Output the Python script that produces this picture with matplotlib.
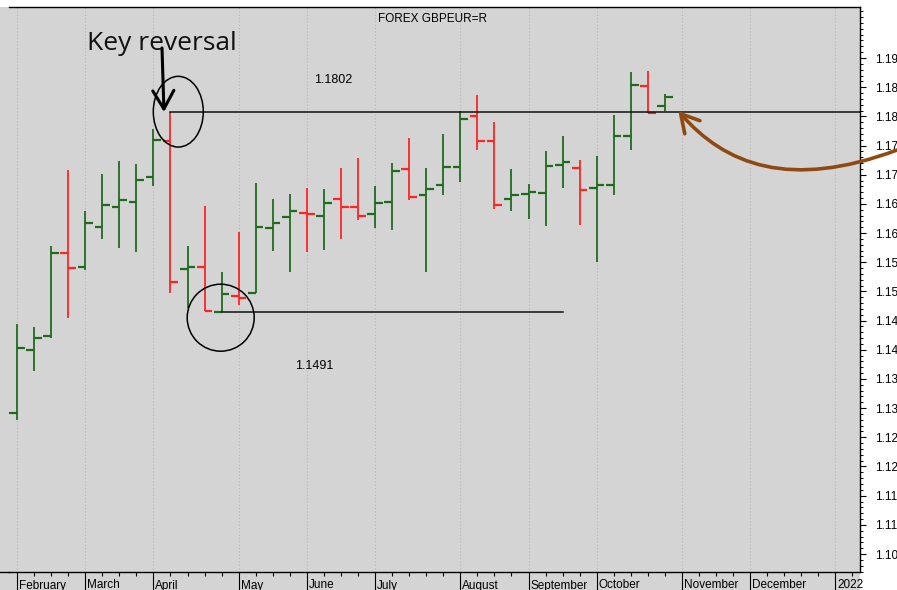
import numpy as np
import matplotlib
matplotlib.use('Agg')
import matplotlib.pyplot as plt
import matplotlib.transforms as mtransforms
from matplotlib.patches import Ellipse, FancyArrowPatch, Rectangle
from matplotlib.path import Path
from matplotlib.lines import Line2D
from matplotlib.ticker import FixedLocator, MultipleLocator, FuncFormatter

# ---------------- data (weekly OHLC, GBP/EUR 2021) ----------------
opens = [1.1291, 1.1399, 1.1423, 1.1566, 1.1542, 1.1611, 1.1644, 1.1654, 1.1696, 1.1757,
         1.1538, 1.1542, 1.1465, 1.1493, 1.1498, 1.1608, 1.1628, 1.1635, 1.1630, 1.1658,
         1.1644, 1.1633, 1.1653, 1.1710, 1.1665, 1.1682, 1.1713, 1.1801, 1.1757, 1.1658,
         1.1667, 1.1669, 1.1717, 1.1712, 1.1678, 1.1682, 1.1766, 1.1852, 1.1818]
highs = [1.1445, 1.1439, 1.1577, 1.1708, 1.1638, 1.1701, 1.1724, 1.1718, 1.1778, 1.1808,
         1.1578, 1.1647, 1.1533, 1.1601, 1.1686, 1.1658, 1.1667, 1.1678, 1.1676, 1.1711,
         1.1729, 1.1680, 1.1720, 1.1763, 1.1712, 1.1769, 1.1810, 1.1837, 1.1791, 1.1710,
         1.1684, 1.1741, 1.1766, 1.1725, 1.1732, 1.1803, 1.1876, 1.1878, 1.1838]
lows = [1.1280, 1.1364, 1.1420, 1.1454, 1.1537, 1.1589, 1.1574, 1.1568, 1.1681, 1.1498,
        1.1471, 1.1467, 1.1465, 1.1476, 1.1497, 1.1570, 1.1533, 1.1567, 1.1571, 1.1589,
        1.1622, 1.1608, 1.1605, 1.1657, 1.1533, 1.1665, 1.1688, 1.1742, 1.1641, 1.1638,
        1.1624, 1.1612, 1.1678, 1.1613, 1.1551, 1.1665, 1.1742, 1.1806, 1.1809]
closes = [1.1403, 1.1420, 1.1566, 1.1540, 1.1618, 1.1648, 1.1656, 1.1691, 1.1760, 1.1517,
          1.1541, 1.1467, 1.1495, 1.1488, 1.1611, 1.1617, 1.1638, 1.1633, 1.1652, 1.1644,
          1.1629, 1.1652, 1.1707, 1.1662, 1.1676, 1.1713, 1.1796, 1.1757, 1.1648, 1.1665,
          1.1670, 1.1715, 1.1721, 1.1673, 1.1682, 1.1766, 1.1854, 1.1806, 1.1833]

month_labels = ['February', 'March', 'April', 'May', 'June', 'July', 'August',
                'September', 'October', 'November', 'December', '2022']
month_weeks = [0, 4, 8, 13, 17, 21, 26, 30, 34, 39, 43, 48]
ytick_values = [1.105 + 0.005 * k for k in range(18)]

title_text = 'FOREX GBPEUR=R'
high_label = '1.1802'
low_label = '1.1491'
reversal_bar = 9
low_bar = 12
low_line_end = 32

# ---------------- figure ----------------
W, H = 897, 590
fig = plt.figure(figsize=(W / 100, H / 100), dpi=100, facecolor='white')
plt.rcParams['font.family'] = ['Liberation Sans', 'DejaVu Sans']


def fx(px):
    return px / W


def fy(py):
    return 1 - py / H


GRAY = '#d4d4d4'
GREEN = '#1e6b1e'
RED = '#ff2424'

fig.add_artist(Rectangle((0, 0), fx(860), fy(7), transform=fig.transFigure,
                         facecolor=GRAY, edgecolor='none', zorder=-5))

ax = fig.add_axes([fx(9), fy(572), fx(860) - fx(9), (572 - 7) / H])
ax.set_facecolor(GRAY)
ax.set_xlim(-0.469, 49.44)
ax.set_ylim(1.10192, 1.19874)

ax.spines['left'].set_visible(False)
for s in ['top', 'right', 'bottom']:
    ax.spines[s].set_color('black')
    ax.spines[s].set_linewidth(1.0)
fig.add_artist(Line2D([0, fx(9)], [fy(572), fy(572)], color='black', lw=1.0,
                      transform=fig.transFigure))

# month gridlines
for p in month_weeks:
    ax.axvline(p, color='#b5b5b5', lw=0.8, ls=(0, (1, 2)), zorder=0.5)

# OHLC bars
tick_len = 0.45
for i in range(len(opens)):
    o, h, l, c = opens[i], highs[i], lows[i], closes[i]
    col = GREEN if c >= o else RED
    ax.plot([i, i], [l, h], color=col, lw=1.3, solid_capstyle='butt', zorder=3)
    ax.plot([i - tick_len, i], [o, o], color=col, lw=1.6, solid_capstyle='butt', zorder=3)
    ax.plot([i, i + tick_len], [c, c], color=col, lw=1.6, solid_capstyle='butt', zorder=3)

# support / resistance lines
ax.plot([reversal_bar, 49.44], [highs[reversal_bar]] * 2, color='#111111', lw=1.1, zorder=4)
ax.plot([low_bar, low_line_end], [lows[low_bar]] * 2, color='#111111', lw=1.1, zorder=4)

# y axis on right (labels shown truncated to 4 characters, as in the source chart)
ax.yaxis.tick_right()
ax.yaxis.set_major_locator(FixedLocator(ytick_values))
ax.yaxis.set_major_formatter(FuncFormatter(lambda v, pos: f'{v:.3f}'[:4]))
ax.yaxis.set_minor_locator(MultipleLocator(0.001))
ax.tick_params(axis='y', which='major', direction='out', length=4.5, width=0.8,
               pad=6.0, labelsize=8.5, colors='black')
ax.tick_params(axis='y', which='minor', direction='out', length=2.3, width=0.7)

# x axis: month ticks + weekly ticks
ax.xaxis.set_major_locator(FixedLocator(month_weeks))
ax.xaxis.set_minor_locator(FixedLocator(list(range(0, 50))))
ax.tick_params(axis='x', which='major', direction='out', length=13, width=0.8,
               labelbottom=False)
ax.tick_params(axis='x', which='minor', direction='out', length=3.2, width=0.8)

trans = mtransforms.blended_transform_factory(ax.transData, ax.transAxes)
for p, name in zip(month_weeks, month_labels):
    ax.text(p + 0.12, -(588.5 - 572) / 565, name, transform=trans, ha='left',
            va='baseline', fontsize=8.5, clip_on=False)

# texts
fig.text(fx(432.5), fy(18.5), title_text, ha='center', va='center', fontsize=8.5)
fig.text(fx(333), fy(80), high_label, ha='center', va='center', fontsize=9)
fig.text(fx(314), fy(366), low_label, ha='center', va='center', fontsize=9)
fig.text(fx(87), fy(50), 'Key reversal', ha='left', va='baseline', fontsize=19,
         family=['Open Sans', 'DejaVu Sans'], color='#111111')

# annotations
fig.add_artist(Ellipse((fx(178.3), fy(111.7)), 50 / W, 70.7 / H, transform=fig.transFigure,
                       fill=False, edgecolor='black', lw=1.1))
fig.add_artist(Ellipse((fx(220.7), fy(317.7)), 67 / W, 67 / H, transform=fig.transFigure,
                       fill=False, edgecolor='black', lw=1.1))
fig.add_artist(FancyArrowPatch((fx(162), fy(48)), (fx(164), fy(112)),
                               transform=fig.transFigure,
                               arrowstyle='->,head_length=0.66,head_width=0.38',
                               mutation_scale=20, lw=2.2, color='black',
                               shrinkA=0, shrinkB=0))

pts = [(897, 150), (790, 190), (725, 165), (678.3, 111)]
curve = Path([(fx(x), fy(y)) for x, y in pts],
             [Path.MOVETO, Path.CURVE4, Path.CURVE4, Path.CURVE4])
fig.add_artist(FancyArrowPatch(path=curve, transform=fig.transFigure,
                               arrowstyle='->,head_length=0.64,head_width=0.36',
                               mutation_scale=20, lw=2.6, color='#8f4a12'))

fig.savefig('out.png', dpi=100, facecolor='white')
